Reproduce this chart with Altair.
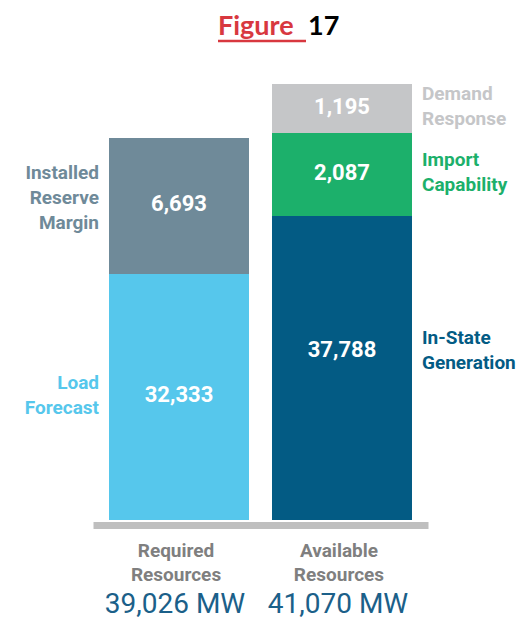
import altair as alt
import pandas as pd

# ---------------- data ----------------
categories = ["Required Resources", "Available Resources"]

left_segments = ["Load Forecast", "Installed Reserve Margin"]
left_values = [32333, 6693]

right_segments = ["In-State Generation", "Import Capability", "Demand Response"]
right_values = [37788, 2087, 1195]

segment_order = left_segments + right_segments
segment_colors = ["#56c7ec", "#6f8a99", "#035b84", "#1cb06b", "#c5c6c8"]

title_word = "Figure"
title_number = "17"


def stacked(category, segments, values):
    rows, start = [], 0
    for s, v in zip(segments, values):
        rows.append(dict(category=category, segment=s, value=v,
                         start=start, end=start + v, mid=start + v / 2,
                         lines=len(s.split(" "))))
        start += v
    return pd.DataFrame(rows)


left_df = stacked(categories[0], left_segments, left_values)
right_df = stacked(categories[1], right_segments, right_values)

totals = [sum(left_values), sum(right_values)]
bottom_df = pd.DataFrame({
    "category": categories,
    "total": [f"{t:,} MW" for t in totals],
    "base": [0, 0],
})

# ---------------- layout (pixels) ----------------
W, H = 335, 436
LINE_H = 25
# the infographic does not draw segments to a common linear scale:
# each bar gets its own piecewise-linear scale that reproduces the drawn heights
left_domain = [0] + list(left_df["end"])
left_range = [H, 190, 54]
right_domain = [0, float(right_df["mid"].iloc[0])] + list(right_df["end"])
right_range = [H, 268, 132, 49, 0]

FONT = "Roboto"

color = alt.Color("segment:N",
                  scale=alt.Scale(domain=segment_order, range=segment_colors),
                  legend=None)

x_enc = alt.X("category:N", sort=categories,
              scale=alt.Scale(domain=categories, paddingInner=0.1411, paddingOuter=0.0982),
              axis=alt.Axis(domain=True, domainColor="#bfbfbf", domainWidth=7, domainCap="butt",
                            ticks=False, labels=False, grid=False, title=None, offset=5))


def bar_layer(df, domain, rng, side_align, side_dx):
    yscale = alt.Scale(domain=domain, range=rng, zero=False, nice=False)
    base = alt.Chart(df)
    bars = base.mark_bar().encode(
        x=x_enc,
        y=alt.Y("end:Q", scale=yscale, axis=None),
        y2="start:Q",
        color=color,
    )
    values = base.mark_text(color="white", font=FONT, fontWeight="bold",
                            fontSize=22, baseline="middle", dy=-2).encode(
        x=alt.X("category:N", sort=categories),
        y=alt.Y("mid:Q"),
        text=alt.Text("value:Q", format=","),
    )
    layers = [bars, values]
    # multi-line side labels: centre each block on its segment
    for n in sorted(df["lines"].unique()):
        shift = -(n - 1) * LINE_H / 2 - 2 - (6 if n > 2 else 0)
        side = base.transform_filter(f"datum.lines == {n}").mark_text(
            font=FONT, fontWeight="bold", fontSize=19,
            align=side_align, baseline="middle", dx=side_dx, dy=shift,
            lineBreak=" ", lineHeight=LINE_H).encode(
            x=alt.X("category:N", sort=categories),
            y=alt.Y("mid:Q"),
            text="segment:N",
            color=color,
        )
        layers.append(side)
    return alt.layer(*layers)


left_layer = bar_layer(left_df, left_domain, left_range, "right", -80)

bottom_base = alt.Chart(bottom_df)
cat_labels = bottom_base.mark_text(font=FONT, fontWeight="bold", fontSize=19,
                                   color="#7f7f7f", baseline="middle", dx=-3, dy=31,
                                   lineBreak=" ", lineHeight=24).encode(
    x=alt.X("category:N", sort=categories),
    y=alt.Y("base:Q"),
    text="category:N",
)
total_labels = bottom_base.mark_text(font=FONT, fontSize=28, color="#1b6089",
                                     baseline="middle", dx=-4, dy=85).encode(
    x=alt.X("category:N", sort=categories),
    y=alt.Y("base:Q"),
    text="total:N",
)
left_layer = alt.layer(left_layer, cat_labels, total_labels)

right_layer = bar_layer(right_df, right_domain, right_range, "left", 80)

title_df = pd.DataFrame({"word": [title_word], "number": [title_number]})
title_a = alt.Chart(title_df).mark_text(font="Lato", fontWeight="bold", fontSize=27,
                                        color="#d8383f", align="left",
                                        baseline="alphabetic").encode(
    x=alt.value(125), y=alt.value(-49), text="word:N")
title_b = alt.Chart(title_df).mark_text(font="Lato", fontWeight="bold", fontSize=27,
                                        color="black", align="left",
                                        baseline="alphabetic").encode(
    x=alt.value(215), y=alt.value(-49), text="number:N")
underline = alt.Chart(title_df).mark_rule(color="#d8383f", strokeWidth=2.5).encode(
    x=alt.value(125), x2=alt.value(213), y=alt.value(-43))

chart = alt.layer(left_layer, right_layer, title_a, title_b, underline).resolve_scale(
    y="independent"
).properties(
    width=W, height=H,
    autosize=alt.AutoSizeParams(type="none"),
    padding={"left": 85, "top": 76, "right": 92, "bottom": 99},
    background="white",
).configure_view(stroke=None)

chart.save("out.html", embed_options={"renderer": "svg", "actions": False})
